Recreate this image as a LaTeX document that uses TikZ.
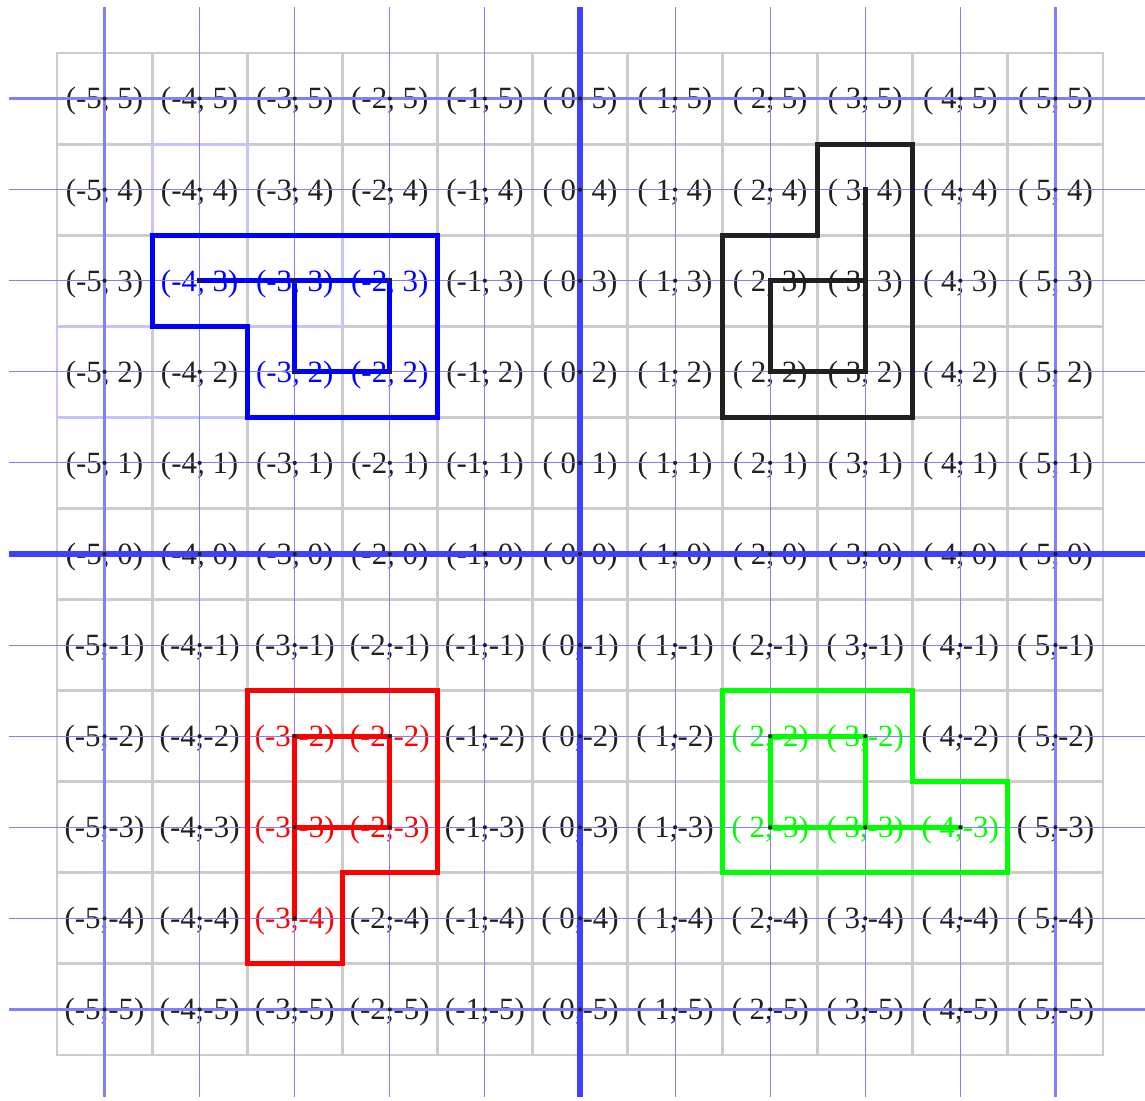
\documentclass[tikz,border=0pt]{standalone}
\usepackage{fontspec}
\setmainfont{Liberation Serif}
\usepackage{tikz}

\definecolor{gridgray}{RGB}{204,204,204}
\definecolor{axisblue}{RGB}{64,64,255}
\definecolor{guideblue}{RGB}{128,128,255}
\definecolor{ghostblue}{RGB}{196,196,255}
\definecolor{inkblack}{RGB}{35,31,32}
\definecolor{shapegreen}{RGB}{0,255,0}

% colour of the label in cell (x,y), black when not set
\newcommand{\setlblcol}[3]{\expandafter\def\csname lblcol#2/#3\endcsname{#1}}
\setlblcol{blue}{-4}{3}\setlblcol{blue}{-3}{3}\setlblcol{blue}{-2}{3}
\setlblcol{blue}{-3}{2}\setlblcol{blue}{-2}{2}
\setlblcol{red}{-3}{-2}\setlblcol{red}{-2}{-2}\setlblcol{red}{-3}{-3}
\setlblcol{red}{-2}{-3}\setlblcol{red}{-3}{-4}
\setlblcol{shapegreen}{2}{-2}\setlblcol{shapegreen}{3}{-2}\setlblcol{shapegreen}{2}{-3}
\setlblcol{shapegreen}{3}{-3}\setlblcol{shapegreen}{4}{-3}

\tikzset{
  cellline/.style={gridgray,line width=2.1pt,line cap=rect},
  ghostline/.style={ghostblue,line width=2.1pt,line cap=rect},
  lbl/.style={anchor=base,yshift=-7.4pt,inner sep=0pt,font=\fontsize{22}{26}\selectfont},
  guide/.style={guideblue,line width=0.7pt},
  guidefive/.style={guideblue,line width=2.5pt},
  axis/.style={axisblue,line width=3.6pt},
  outline/.style={line width=3.6pt,line join=miter,line cap=rect},
  trace/.style={line width=3.4pt,line cap=rect,xshift=1pt,yshift=-1pt},
}

\begin{document}
\begin{tikzpicture}[x=2.3773cm,y=2.2773cm]
    \useasboundingbox (-6.0995,-5.9941) rectangle (5.9418,6.0819);

    % cells
    \foreach \k [evaluate=\k as \i using \k-5.5] in {0,...,11} {
      \draw[cellline] (\i,-5.5) -- (\i,5.5);
      \draw[cellline] (-5.5,\i) -- (5.5,\i);
    }
    \draw[ghostline] (-4.5,4.5) -- (-3.5,4.5) -- (-3.5,3.5) -- (-2.5,3.5) -- (-2.5,2.5)
      -- (-3.5,2.5) -- (-3.5,1.5) -- (-5.5,1.5) -- (-5.5,2.5) -- (-4.5,2.5) -- cycle;

    % labels
    \foreach \x in {-5,...,5}
      \foreach \y in {-5,...,5} {
        \coordinate (p\x\y) at (\x,\y);
        \ifcsname lblcol\x/\y\endcsname
          \edef\lblc{\csname lblcol\x/\y\endcsname}
        \else
          \def\lblc{inkblack}
        \fi
        \node[lbl,text=\lblc] (t\x\y) at (p\x\y)
          {(\ifnum\x<0 \x\else\ \x\fi,\ifnum\y<0 \y\else\ \y\fi)};
      }

    % blue lines through the centres
    \foreach \i in {-4,-3,-2,-1,1,2,3,4} {
      \draw[guide] (\i,-5.96) -- (\i,6);
      \draw[guide] (-6,\i) -- (6,\i);
    }
    \foreach \i in {-5,5} {
      \draw[guidefive] (\i,-5.96) -- (\i,6);
      \draw[guidefive] (-6,\i) -- (6,\i);
    }
    \draw[axis] (0,-5.96) -- (0,6);
    \draw[axis] (-6,0) -- (6,0);

    % pieces
    \draw[outline,blue] (-4.5,3.5) -- (-1.5,3.5) -- (-1.5,1.5) -- (-3.5,1.5) -- (-3.5,2.5) -- (-4.5,2.5) -- cycle;
    \draw[trace,blue] (p-43) -- (p-33) -- (p-23) -- (p-22) -- (p-32) -- (p-33);

    \draw[outline,inkblack] (1.5,3.5) -- (2.5,3.5) -- (2.5,4.5) -- (3.5,4.5) -- (3.5,1.5) -- (1.5,1.5) -- cycle;
    \draw[trace,inkblack] (p34) -- (p33) -- (p23) -- (p22) -- (p32) -- (p33);

    \draw[outline,red] (-3.5,-1.5) -- (-1.5,-1.5) -- (-1.5,-3.5) -- (-2.5,-3.5) -- (-2.5,-4.5) -- (-3.5,-4.5) -- cycle;
    \draw[trace,red] (p-3-4) -- (p-3-3) -- (p-3-2) -- (p-2-2) -- (p-2-3) -- (p-3-3);

    \draw[outline,shapegreen] (1.5,-1.5) -- (3.5,-1.5) -- (3.5,-2.5) -- (4.5,-2.5) -- (4.5,-3.5) -- (1.5,-3.5) -- cycle;
    \draw[trace,shapegreen] (p4-3) -- (p3-3) -- (p2-3) -- (p2-2) -- (p3-2) -- (p3-3);

    % centre dots
    \foreach \x in {-5,...,5}
      \foreach \y in {-5,...,5}
        \fill[inkblack] (p\x\y) circle[radius=1.5pt];
\end{tikzpicture}
\end{document}
